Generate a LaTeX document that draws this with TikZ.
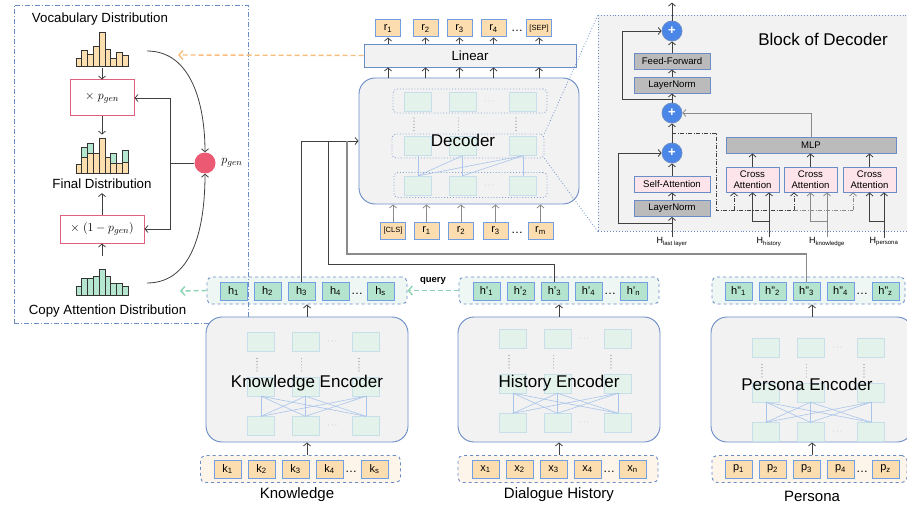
\documentclass[tikz,border=0pt]{standalone}
\usepackage{fontspec}
\setmainfont{Liberation Sans}
\usetikzlibrary{arrows.meta}
\usetikzlibrary{shapes}
\usetikzlibrary{backgrounds,positioning}
\usepackage{amsmath}
\usepackage{xcolor}

\definecolor{encgrey}{HTML}{F2F2F2}
\definecolor{encblue}{HTML}{6A8CC7}
\definecolor{tokblue}{HTML}{729FE3}
\definecolor{tokorange}{HTML}{FCDDB0}
\definecolor{tokgreen}{HTML}{B4E3CE}
\definecolor{rowgreen}{HTML}{EEF7F3}
\definecolor{roworange}{HTML}{FDF4EA}
\definecolor{cellgreen}{HTML}{E3F2EA}
\definecolor{celledge}{HTML}{C8DFEA}
\definecolor{meshblue}{HTML}{A9C4EB}
\definecolor{plusblue}{HTML}{4A86E8}
\definecolor{boxgrey}{HTML}{BBBBBB}
\definecolor{attpink}{HTML}{FCE4EA}
\definecolor{gatered}{HTML}{EB5A72}
\definecolor{mulpink}{HTML}{E0607E}
\definecolor{linedark}{HTML}{404040}
\definecolor{linegrey}{HTML}{8A8A8A}
\definecolor{vocabarr}{HTML}{F7BE7E}
\definecolor{copyarr}{HTML}{8ED4B2}
\definecolor{historange}{HTML}{FDDEAE}
\definecolor{histgreen}{HTML}{B5E6CF}

\newcommand{\fsz}[1]{\fontsize{#1}{#1}\selectfont}
\newcommand{\encinner}[1]{%
  \foreach \rw/\yy in {t/-37.5,m/7,b/46.5}{%
    \node[cell] (#1\rw1) at (-46,\yy) {};
    \node[cell] (#1\rw2) at (-1.5,\yy) {};
    \node[cell] (#1\rw3) at (59,\yy) {};
  }%
  \node[celldots] (#1td) at (26,-37.5) {$\cdots$};
  \node[celldots] (#1bd) at (26,46.5) {$\cdots$};
  \draw[vdots] (-50,-21) -- (-50,-8);
  \draw[vdots] (-5.5,-21) -- (-5.5,-8);
  \draw[vdots] (52,-21) -- (52,-8);
}

\begin{document}
\begin{tikzpicture}
  [x=1pt, y=-1pt, font=\fsz{10},
   tok/.style={rectangle,draw=tokblue,line width=1pt,minimum width=27pt,minimum height=18pt,inner sep=0pt,font=\fsz{11}},
   otok/.style={tok,fill=tokorange},
   gtok/.style={tok,fill=tokgreen},
   dtok/.style={otok,minimum width=25pt,minimum height=17pt},
   tokdots/.style={inner sep=0pt,font=\fsz{12}},
   greenrow/.style={rectangle,rounded corners=5pt,draw=encblue,dashed,line width=0.9pt,fill=rowgreen,minimum width=200pt,minimum height=27pt},
   orangerow/.style={greenrow,fill=roworange},
   enc/.style={rectangle,rounded corners=16pt,draw=encblue,line width=0.9pt,fill=encgrey,minimum width=202pt,minimum height=125pt},
   cell/.style={rectangle,draw=celledge,fill=cellgreen,minimum width=27pt,minimum height=19pt,inner sep=0pt},
   celldots/.style={inner sep=0pt,text=black!35,font=\fsz{8}},
   vdots/.style={draw=black!30,line width=1.2pt,dash pattern=on 0.1pt off 3pt,line cap=round},
   mesh/.style={draw=meshblue,line width=0.6pt},
   layerbox/.style={rectangle,rounded corners=4pt,draw=encblue!80,dotted,line width=0.9pt},
   blk/.style={rectangle,draw=encblue,line width=0.9pt,minimum width=76pt,minimum height=16pt,inner sep=0pt,font=\fsz{9.6}},
   greyblk/.style={blk,fill=boxgrey},
   pinkblk/.style={blk,fill=attpink},
   plus/.style={circle,draw=encblue,line width=0.8pt,fill=plusblue,minimum size=20pt,inner sep=0pt,text=white,font=\fsz{13}\bfseries},
   mulbox/.style={rectangle,draw=mulpink,line width=1pt,fill=white,font=\fsz{12.5}},
   histbar/.style={draw=black!80,line width=0.7pt},
   lbl/.style={inner sep=0pt,font=\fsz{13.3}},
   hlab/.style={inner sep=0pt,font=\fsz{9}},
   arr/.style={->,>={Straight Barb[length=3pt,width=7pt]},draw=linedark,line width=0.8pt},
   greyarr/.style={arr,draw=linegrey},
   qarr/.style={arr,dash pattern=on 4pt off 1.5pt on 1pt off 1.5pt},
   qline/.style={draw=linedark,line width=0.8pt,dash pattern=on 4pt off 1.5pt on 1pt off 1.5pt},
   vocabin/.style={->,>={Straight Barb[length=4pt,width=9pt]},draw=vocabarr,line width=1.4pt,dash pattern=on 5pt off 3pt},
   copyin/.style={vocabin,draw=copyarr}]

  \useasboundingbox (0,0) rectangle (907,508);

  % copy mechanism
  \node[lbl] (vocabtitle) at (100,19) {Vocabulary Distribution};
  \node[minimum width=52pt,minimum height=35pt,inner sep=0pt,anchor=south] (vocabhist) at (102,66) {};
  \foreach \hgt [count=\i from 0] in {8,16,12,20,34,17,8,14,11}
    \draw[histbar,fill=historange] ({76+5.8*\i},66) rectangle ++(5.8,-\hgt);
  \node[mulbox,minimum width=64pt,minimum height=36pt] (mulgen) at (102,98) {$\times\ p_{gen}$};
  \node[minimum width=52pt,minimum height=35pt,inner sep=0pt,anchor=south] (finalhist) at (102,173) {};
  \foreach \o/\g [count=\i from 0] in {9/0,16/10,20/10,20/0,35/0,16/0,10/10,10/0,11/12}{
    \draw[histbar,fill=historange] ({76+5.8*\i},173) rectangle ++(5.8,-\o);
    \draw[histbar,fill=histgreen] ({76+5.8*\i},{173-\o}) rectangle ++(5.8,-\g);
  }
  \node[lbl] (finaltitle) at (102,184) {Final Distribution};
  \node[mulbox,minimum width=84pt,minimum height=28pt] (mulcopy) at (102,229) {$\times\ (1-p_{gen})$};
  \node[minimum width=52pt,minimum height=26pt,inner sep=0pt,anchor=south] (copyhist) at (102,295) {};
  \foreach \hgt [count=\i from 0] in {9,17,17,19,26,19,12,12,9}
    \draw[histbar,fill=histgreen] ({76+5.8*\i},295) rectangle ++(5.8,-\hgt);
  \node[lbl] (copytitle) at (107.5,311) {Copy Attention Distribution};
  \node[circle,fill=gatered,minimum size=21pt,inner sep=0pt] (pgen) at (205,163) {};
  \node[inner sep=0pt,font=\fsz{13}] (pgenlab) at (232,163) {$p_{gen}$};
  \coordinate (vocabout) at (147,51);
  \coordinate (copyout) at (147,283);
  \coordinate (gatebend) at (170,163);
  \draw[arr] (vocabout) to[out=0,in=90] (pgen.north);
  \draw[arr] (copyout) to[out=0,in=-90] (pgen.south);
  \draw[linedark,line width=0.8pt] (pgen.west) -- (gatebend);
  \draw[arr] (gatebend) |- (mulgen.east);
  \draw[arr] (gatebend) |- (mulcopy.east);
  \draw[arr,shorten <=2pt] (vocabhist.south) -- (mulgen.north);
  \draw[arr,shorten >=3pt] (mulgen.south) -- (finalhist.north);
  \draw[arr,shorten >=4pt] (mulcopy.north) -- (finaltitle.south);
  \draw[arr,shorten <=13pt] (copyhist.north) -- (mulcopy.south);

  % decoder
  \node[enc,minimum width=220pt,minimum height=126pt] (dec) at (469,141) {};
  \node[layerbox,minimum width=154pt,minimum height=24pt] (dlt) at (470,101) {};
  \node[layerbox,minimum width=152pt,minimum height=24pt] (dlm) at (468,146) {};
  \node[layerbox,minimum width=153pt,minimum height=25pt] (dlb) at (470.5,185) {};
  \begin{scope}[shift={(464,139)}]
    \encinner{d}
  \end{scope}
  \foreach \a/\b in {1/1,1/2,1/3,2/2,2/3,3/3}
    \draw[mesh] (db\a.north) -- (dm\b.south);
  \node[font=\fsz{17}] (declab) at (463,140) {Decoder};

  \node[rectangle,draw=encblue,line width=0.9pt,fill=encgrey,minimum width=212pt,minimum height=23pt,font=\fsz{13.3}] (lin) at (470,55.5) {Linear};
  \node[dtok] (r1) at (388,28.5) {r\textsubscript{1}};
  \node[dtok] (r2) at (425.5,28.5) {r\textsubscript{2}};
  \node[dtok] (r3) at (459.5,28.5) {r\textsubscript{3}};
  \node[dtok] (r4) at (493.5,28.5) {r\textsubscript{4}};
  \node[tokdots] (outdots) at (517,31) {\dots};
  \node[dtok] (sep) at (539,28.5) {\fsz{7.5}[SEP]};
  \node[dtok] (cls) at (393,230.5) {\fsz{7.5}[CLS]};
  \node[dtok] (in1) at (426.5,230.5) {r\textsubscript{1}};
  \node[dtok] (in2) at (461,230.5) {r\textsubscript{2}};
  \node[dtok] (in3) at (495.5,230.5) {r\textsubscript{3}};
  \node[tokdots] (indots) at (517,233) {\dots};
  \node[dtok] (inm) at (540.5,230.5) {r\textsubscript{m}};
  \foreach \n in {r1,r2,r3,r4,sep}{
    \draw[arr] (\n.south |- lin.north) -- (\n.south);
    \draw[arr] (\n.south |- dec.north) -- (\n.south |- lin.south);
  }
  \foreach \n in {cls,in1,in2,in3,inm}
    \draw[greyarr] (\n.north) -- (\n.north |- dec.south);

  % block of decoder
  \node[rectangle,draw=encblue,dotted,line width=0.9pt,fill=encgrey,minimum width=320pt,minimum height=216pt,anchor=north west] (blockpanel) at (598,15) {};
  \draw[encblue,dotted,line width=0.8pt] (dlm.north east) -- (blockpanel.north west);
  \draw[encblue,dotted,line width=0.8pt] (dlm.south east) -- (blockpanel.south west);
  \node[font=\fsz{17},inner sep=0pt] (blocklab) at (823,39) {Block of Decoder};
  \node[plus] (ptop) at (672,31) {+};
  \node[greyblk] (ff) at (672,61) {Feed-Forward};
  \node[greyblk] (ln2) at (672,85) {LayerNorm};
  \node[plus] (pmid) at (672,113) {+};
  \node[plus] (pbot) at (672,153) {+};
  \node[pinkblk] (sa) at (672,184) {Self-Attention};
  \node[greyblk] (ln1) at (672,208.5) {LayerNorm};
  \node[greyblk,minimum width=170pt] (mlp) at (811,145) {MLP};
  \node[pinkblk,minimum width=53pt,minimum height=25pt,align=center,font={\fontsize{9.6}{11}\selectfont}] (ca1) at (752.5,179.5) {Cross\\Attention};
  \node[pinkblk,minimum width=53pt,minimum height=25pt,align=center,font={\fontsize{9.6}{11}\selectfont}] (ca2) at (810.5,179.5) {Cross\\Attention};
  \node[pinkblk,minimum width=53pt,minimum height=25pt,align=center,font={\fontsize{9.6}{11}\selectfont}] (ca3) at (869.5,179.5) {Cross\\Attention};
  \node[hlab] (hlast) at (672,242) {H\textsubscript{last layer}};
  \node[hlab] (hhist) at (769,242) {H\textsubscript{history}};
  \node[hlab] (hknow) at (827,242) {H\textsubscript{knowledge}};
  \node[hlab] (hpers) at (884,242) {H\textsubscript{persona}};

  \draw[arr] (hlast.north) -- (ln1.south);
  \coordinate (res1) at (672,223);
  \draw[arr] (res1) -- ++(-54,0) |- (pbot.west);
  \draw[arr] (ln1.north) -- (sa.south);
  \draw[arr] (sa.north) -- (pbot.south);
  \draw[arr] (pbot.north) -- (pmid.south);
  \draw[arr] (pmid.north) -- (ln2.south);
  \coordinate (res2) at (672,99);
  \draw[arr] (res2) -- ++(-50,0) |- (ptop.west);
  \draw[arr] (ln2.north) -- (ff.south);
  \draw[arr] (ff.north) -- (ptop.south);
  \draw[arr] (ptop.north) -- ++(0,-18);
  \draw[greyarr] (mlp.north) |- (pmid.east);
  \foreach \n in {ca1,ca2,ca3}
    \draw[arr] (\n.north) -- (\n.north |- mlp.south);

  \coordinate (qsplit) at (672,133);
  \coordinate (qcorner) at (716,210);
  \coordinate (q1) at (734,210);
  \coordinate (q2) at (794,210);
  \coordinate (q3) at (853,210);
  \draw[qline] (qsplit) -| (qcorner) -- (q2);
  \draw[qline,draw=linegrey] (q2) -- (q3);
  \draw[qarr] (q1) -- (q1 |- ca1.south);
  \draw[qarr] (q2) -- (q2 |- ca2.south);
  \draw[qarr,draw=linegrey] (q3) -- (q3 |- ca3.south);
  \coordinate (hhj) at (769,221);
  \draw[arr] (hhist.north) -- (hhist.north |- ca1.south);
  \draw[arr] (hhj) -| (ca1.south);
  \coordinate (hkj) at (827,221);
  \draw[greyarr] (hknow.north) -- (hknow.north |- ca2.south);
  \draw[greyarr] (hkj) -| (ca2.south);
  \coordinate (hpj) at (884,221);
  \draw[arr] (hpers.north) -- (hpers.north |- ca3.south);
  \draw[arr] (hpj) -| (ca3.south);

  % encoders
  \node[greenrow] (hrow) at (307,290.5) {};
  \node[greenrow] (hprow) at (559,290.5) {};
  \node[greenrow,minimum width=193pt] (hpprow) at (808.5,290.5) {};
  \node[orangerow] (krow) at (300.5,469) {};
  \node[orangerow] (xrow) at (558,469) {};
  \node[orangerow,minimum width=195pt] (prow) at (809.5,469) {};

  \node[draw=encblue,line width=0.9pt,dash pattern=on 5pt off 2pt on 1pt off 2pt,minimum width=234pt,minimum height=318pt,anchor=north west,inner sep=0pt] (copypanel) at (14,5) {};

  \node[enc] (kenc) at (307,379.5) {};
  \begin{scope}[shift={(307,379.5)}]
    \encinner{k}
  \end{scope}
  \node[enc] (xenc) at (559,379.5) {};
  \begin{scope}[shift={(559,376.5)}]
    \encinner{x}
  \end{scope}
  \node[enc] (penc) at (812,379.5) {};
  \begin{scope}[shift={(812,385.5)}]
    \encinner{p}
  \end{scope}
  \foreach \a in {1,2,3}
    \foreach \b in {1,2,3}{
      \draw[mesh] (kb\a.north) -- (km\b.south);
      \draw[mesh] (xb\a.north) -- (xm\b.south);
      \draw[mesh] (pb\a.north) -- (pm\b.south);
    }
  \node[font=\fsz{17}] (kenclab) at (307,383) {Knowledge Encoder};
  \node[font=\fsz{17}] (xenclab) at (559,383) {History Encoder};
  \node[font=\fsz{17}] (penclab) at (807,384) {Persona Encoder};

  \foreach \i in {1,...,4}{
    \node[gtok] (h\i) at ({233.5+34*(\i-1)},291) {h\textsubscript{\i}};
    \node[gtok] (hp\i) at ({486.5+34*(\i-1)},291) {h'\textsubscript{\i}};
    \node[gtok] (hpp\i) at ({738.5+34*(\i-1)},291) {h"\textsubscript{\i}};
    \node[otok] (k\i) at ({227.5+34*(\i-1)},469) {k\textsubscript{\i}};
    \node[otok] (x\i) at ({485.5+34*(\i-1)},469) {x\textsubscript{\i}};
    \node[otok] (p\i) at ({738.5+34*(\i-1)},469) {p\textsubscript{\i}};
  }
  \node[tokdots] (hdots) at (357,294) {\dots};
  \node[gtok] (hs) at (380.5,291) {h\textsubscript{s}};
  \node[tokdots] (hpdots) at (610,294) {\dots};
  \node[gtok] (hpn) at (633.5,291) {h'\textsubscript{n}};
  \node[tokdots] (hppdots) at (862,294) {\dots};
  \node[gtok] (hppz) at (885.5,291) {h"\textsubscript{z}};
  \node[tokdots] (kdots) at (351,472) {\dots};
  \node[otok] (ks) at (374.5,469) {k\textsubscript{s}};
  \node[tokdots] (xdots) at (609,472) {\dots};
  \node[otok] (xn) at (632.5,469) {x\textsubscript{n}};
  \node[tokdots] (pdots) at (862,472) {\dots};
  \node[otok] (pz) at (885.5,469) {p\textsubscript{z}};

  \node[font=\fsz{15}] (klab) at (297,495) {Knowledge};
  \node[font=\fsz{15}] (xlab) at (559,495) {Dialogue History};
  \node[font=\fsz{15}] (plab) at (812,496) {Persona};

  \draw[arr] (kenc.south |- krow.north) -- (kenc.south);
  \draw[arr] (kenc.north) -- (kenc.north |- hrow.south);
  \draw[arr] (xenc.south |- xrow.north) -- (xenc.south);
  \draw[arr] (xenc.north) -- (xenc.north |- hprow.south);
  \draw[arr] (penc.south |- prow.north) -- (penc.south);
  \draw[arr] (penc.north) -- (penc.north |- hpprow.south);

  % links to the decoder
  \draw[arr] (h3.north) |- (dec.west);
  \coordinate (histbend) at (328,264);
  \draw[linedark,line width=0.8pt] (hp3.north) |- (histbend) -- (histbend |- dec.west);
  \coordinate (persbend) at (347,254);
  \draw[linegrey,line width=1.3pt] (hpp3.north) |- (persbend) -- (persbend |- dec.west);

  \coordinate (copyend) at (180,291);
  \draw[copyin] (hrow.west) -- (copyend);
  \draw[copyin] (hprow.west) -- (hrow.east) node[midway,above=2pt,font=\fsz{9.5}\bfseries,text=black] (querylab) {query};
  \coordinate (vocabend) at (178,55);
  \draw[vocabin] (lin.west) -- (vocabend);
\end{tikzpicture}
\end{document}
